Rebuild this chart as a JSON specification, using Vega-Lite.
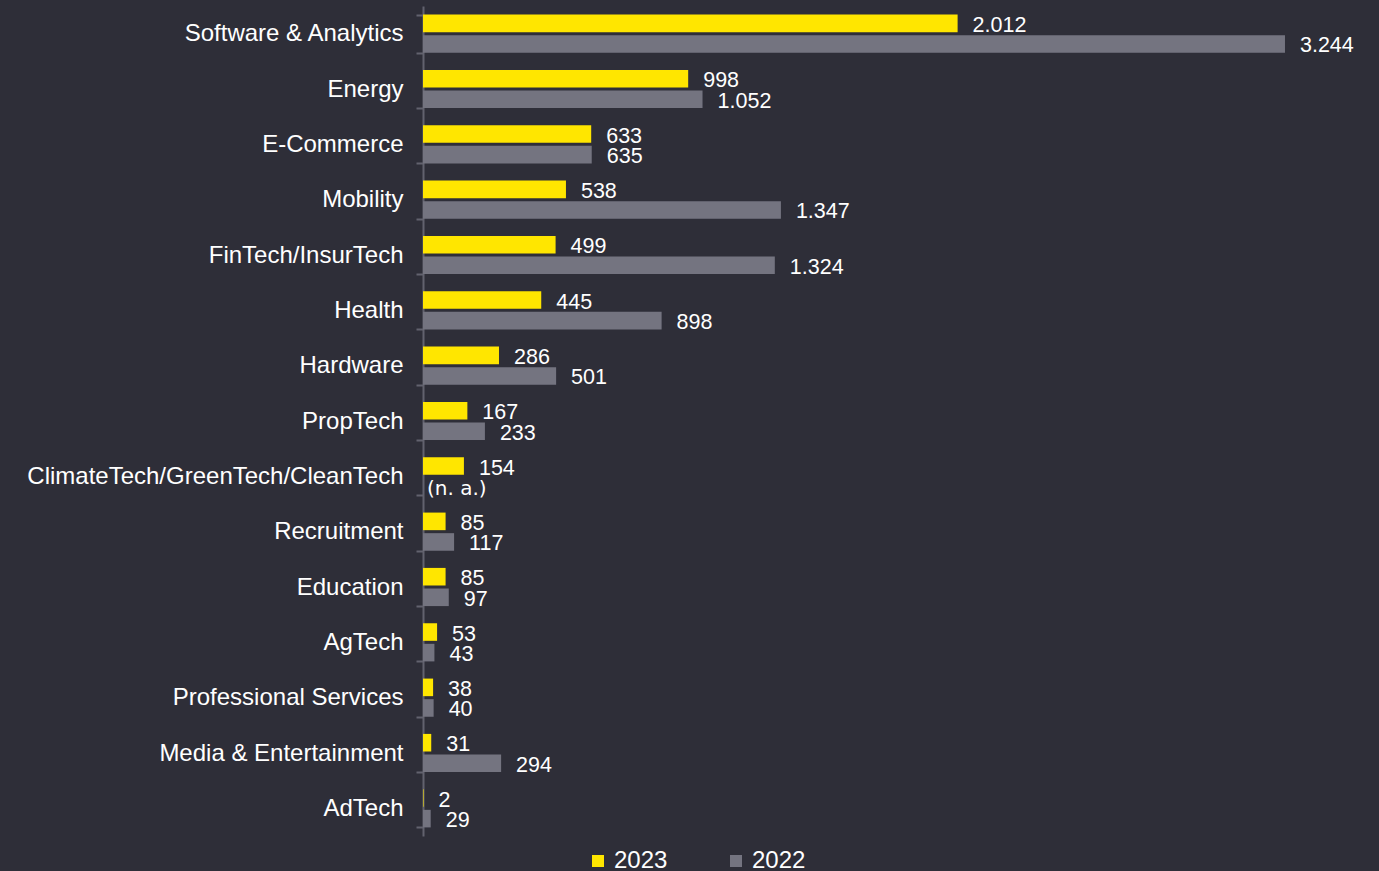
{
  "$schema": "https://vega.github.io/schema/vega-lite/v6.json",
  "autosize": "none",
  "padding": {"left": 423, "top": 6, "right": 26, "bottom": 35},
  "width": 930,
  "height": 830,
  "background": "#2e2e38",
  "config": {
    "locale": {"number": {"decimal": ",", "thousands": ".", "grouping": [3], "currency": ["", " €"]}},
    "view": {"stroke": null},
    "font": "Liberation Sans"
  },
  "data": {
    "values": [
      {"sector": "Software & Analytics", "year": "2023", "value": 2012},
      {"sector": "Software & Analytics", "year": "2022", "value": 3244},
      {"sector": "Energy", "year": "2023", "value": 998},
      {"sector": "Energy", "year": "2022", "value": 1052},
      {"sector": "E-Commerce", "year": "2023", "value": 633},
      {"sector": "E-Commerce", "year": "2022", "value": 635},
      {"sector": "Mobility", "year": "2023", "value": 538},
      {"sector": "Mobility", "year": "2022", "value": 1347},
      {"sector": "FinTech/InsurTech", "year": "2023", "value": 499},
      {"sector": "FinTech/InsurTech", "year": "2022", "value": 1324},
      {"sector": "Health", "year": "2023", "value": 445},
      {"sector": "Health", "year": "2022", "value": 898},
      {"sector": "Hardware", "year": "2023", "value": 286},
      {"sector": "Hardware", "year": "2022", "value": 501},
      {"sector": "PropTech", "year": "2023", "value": 167},
      {"sector": "PropTech", "year": "2022", "value": 233},
      {"sector": "ClimateTech/GreenTech/CleanTech", "year": "2023", "value": 154},
      {"sector": "ClimateTech/GreenTech/CleanTech", "year": "2022", "value": null},
      {"sector": "Recruitment", "year": "2023", "value": 85},
      {"sector": "Recruitment", "year": "2022", "value": 117},
      {"sector": "Education", "year": "2023", "value": 85},
      {"sector": "Education", "year": "2022", "value": 97},
      {"sector": "AgTech", "year": "2023", "value": 53},
      {"sector": "AgTech", "year": "2022", "value": 43},
      {"sector": "Professional Services", "year": "2023", "value": 38},
      {"sector": "Professional Services", "year": "2022", "value": 40},
      {"sector": "Media & Entertainment", "year": "2023", "value": 31},
      {"sector": "Media & Entertainment", "year": "2022", "value": 294},
      {"sector": "AdTech", "year": "2023", "value": 2},
      {"sector": "AdTech", "year": "2022", "value": 29}
    ]
  },
  "encoding": {
    "y": {
      "field": "sector", "type": "nominal", "sort": null,
      "scale": {"paddingInner": 0.31, "paddingOuter": 0.155},
      "axis": {
        "title": null, "domainColor": "#62626e", "domainWidth": 2,
        "tickColor": "#62626e", "tickWidth": 2, "tickSize": 7, "tickBand": "extent",
        "labelColor": "#ffffff", "labelFontSize": 24, "labelPadding": 13, "labelLimit": 500,
        "labelFont": "Liberation Sans"
      }
    },
    "yOffset": {
      "field": "year", "type": "nominal", "sort": ["2023", "2022"],
      "scale": {"paddingInner": 0.146, "paddingOuter": 0}
    }
  },
  "layer": [
    {
      "mark": {"type": "bar"},
      "encoding": {
        "x": {"field": "value", "type": "quantitative", "scale": {"domain": [0, 3500], "nice": false}, "axis": null},
        "color": {
          "field": "year", "type": "nominal",
          "scale": {"domain": ["2023", "2022"], "range": ["#ffe600", "#747480"]},
          "legend": {
            "title": null, "orient": "none", "direction": "horizontal",
            "legendX": 163, "legendY": 843,
            "symbolType": "square", "symbolSize": 144, "symbolStrokeWidth": 0,
            "labelColor": "#ffffff", "labelFontSize": 24, "labelOffset": 4,
            "columnPadding": 56, "labelFont": "Liberation Sans"
          }
        }
      }
    },
    {
      "transform": [{"filter": "datum.value != null"}],
      "mark": {"type": "text", "align": "left", "baseline": "middle", "dx": 15, "dy": 2.5, "fontSize": 21.5, "color": "#ffffff"},
      "encoding": {
        "x": {"field": "value", "type": "quantitative"},
        "text": {"field": "value", "type": "quantitative", "format": ",d"}
      }
    },
    {
      "transform": [{"filter": "datum.value == null"}],
      "mark": {"type": "text", "align": "left", "baseline": "middle", "dx": 4, "dy": 2, "fontSize": 20, "color": "#ffffff", "font": "DejaVu Sans"},
      "encoding": {
        "x": {"datum": 0, "type": "quantitative"},
        "text": {"value": "(n. a.)"}
      }
    }
  ]
}
